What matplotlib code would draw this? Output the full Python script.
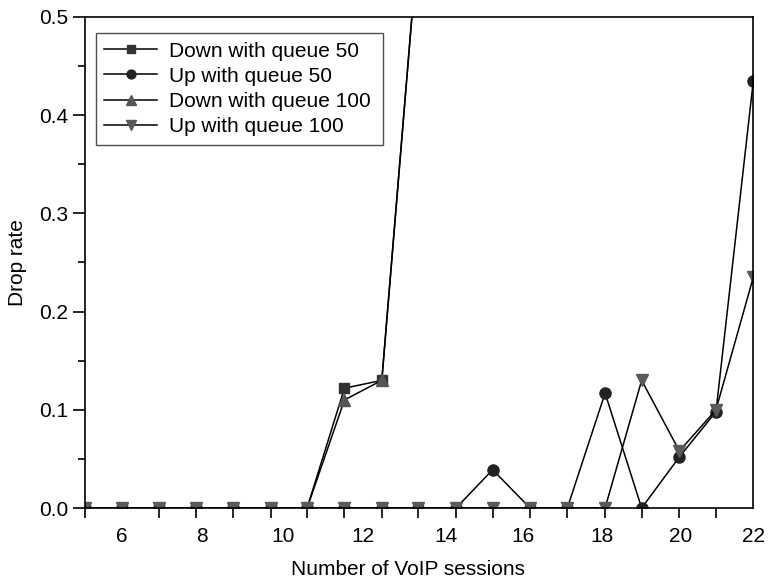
import matplotlib.pyplot as plt
from matplotlib.ticker import FixedLocator, NullFormatter

plt.rcParams['font.family'] = ['Liberation Sans', 'DejaVu Sans']

# session counts where each measurement was taken
sessions = [5.0, 5.93, 6.88, 7.82, 8.77, 9.72, 10.65, 11.60, 12.55, 13.48,
            14.44, 15.37, 16.32, 17.27, 18.23, 19.16, 20.12, 21.05, 22.0]

down_q50 = [0, 0, 0, 0, 0, 0, 0, 0.122, 0.130, 0.58]
up_q50 = [0, 0, 0, 0, 0, 0, 0, 0, 0, 0,
          0, 0.039, 0, 0, 0.117, 0, 0.052, 0.098, 0.435]
down_q100 = [0, 0, 0, 0, 0, 0, 0, 0.110, 0.130, 0.58]
up_q100 = [0, 0, 0, 0, 0, 0, 0, 0, 0, 0,
           0, 0, 0, 0, 0, 0.130, 0.058, 0.100, 0.235]

xtick_pos = [5.93, 7.98, 10.03, 12.06, 14.18, 16.13, 18.14, 20.14, 22.0]
xtick_labels = ['6', '8', '10', '12', '14', '16', '18', '20', '22']
yticks = [0.0, 0.1, 0.2, 0.3, 0.4, 0.5]

fig = plt.figure(figsize=(7.77, 5.86), dpi=100)
ax = fig.add_axes([0.1094, 0.1331, 0.8601, 0.8379])

lw = 1.1
ax.plot(sessions[:len(down_q50)], down_q50, color='black', linewidth=lw,
        marker='s', markersize=7.5, markerfacecolor='#333333',
        markeredgecolor='#333333', label='Down with queue 50')
ax.plot(sessions, up_q50, color='black', linewidth=lw,
        marker='o', markersize=8, markerfacecolor='#222222',
        markeredgecolor='#222222', label='Up with queue 50')
ax.plot(sessions[:len(down_q100)], down_q100, color='black', linewidth=lw,
        marker='^', markersize=9, markerfacecolor='#555555',
        markeredgecolor='#555555', label='Down with queue 100')
ax.plot(sessions, up_q100, color='black', linewidth=lw,
        marker='v', markersize=9, markerfacecolor='#5a5a5a',
        markeredgecolor='#5a5a5a', label='Up with queue 100')

ax.set_xlim(5, 22)
ax.set_ylim(0, 0.5)

# labels sit on their own positions, tick marks sit on the measured sessions
ax.xaxis.set_major_locator(FixedLocator(xtick_pos))
ax.set_xticklabels(xtick_labels)
ax.xaxis.set_minor_locator(FixedLocator(sessions))
ax.xaxis.set_minor_formatter(NullFormatter())
ax.tick_params(axis='x', which='major', length=0, pad=14, labelsize=15)
ax.tick_params(axis='x', which='minor', length=7, width=1.2, direction='out')

ax.set_yticks(yticks)
ax.set_yticklabels(['%.1f' % v for v in yticks])
ax.set_yticks([0.05, 0.15, 0.25, 0.35, 0.45], minor=True)
ax.tick_params(axis='y', which='major', length=9, width=1.2, labelsize=15, pad=3)
ax.tick_params(axis='y', which='minor', length=5, width=1.2)

for s in ax.spines.values():
    s.set_linewidth(1.2)

ax.set_xlabel('Number of VoIP sessions', fontsize=15)
ax.xaxis.set_label_coords(0.4826, -0.105)
ax.set_ylabel('Drop rate', fontsize=15, labelpad=9)

leg_w = 0.4295
leg_h = 0.226
leg = ax.legend(loc='upper left', bbox_to_anchor=(0.0165, 0.967 - leg_h, leg_w, leg_h),
                mode='expand', borderaxespad=0, fontsize=15, frameon=True,
                fancybox=False, handlelength=2.55, handletextpad=0.55,
                labelspacing=0.3, borderpad=0.4, markerscale=0.8)
leg.get_frame().set_edgecolor('#222222')
leg.get_frame().set_linewidth(1.0)

fig.savefig('out.png', dpi=100)
